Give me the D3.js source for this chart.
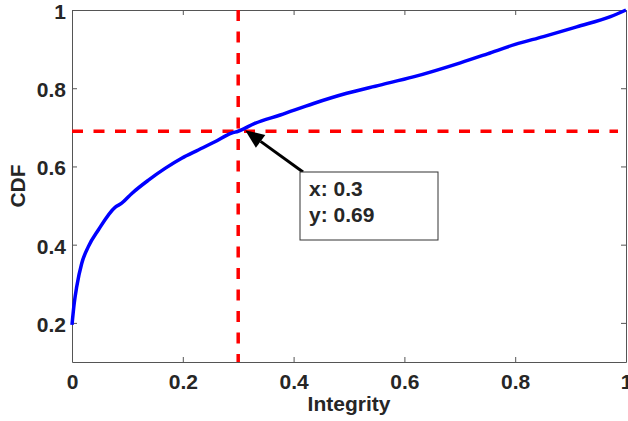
<!DOCTYPE html>
<html>
<head>
<meta charset="UTF-8">
<style>
  body { margin: 0; background: #fff; }
  svg { display: block; font-family: Arial, "Liberation Sans", sans-serif; }
  .axis text { font-size: 21px; font-weight: bold; fill: #262626; }
  .axis path, .axis line { stroke: #555; stroke-width: 1; }
  .lbl { font-size: 21px; font-weight: bold; fill: #262626; }
</style>
</head>
<body>
<script src="https://cdn.jsdelivr.net/npm/d3@7/dist/d3.min.js"></script>
<script>
// curve
var integrity = [0, 0.004, 0.0085, 0.0175, 0.0295, 0.0475, 0.0777, 0.0897, 0.108, 0.138, 0.168, 0.198,
  0.228, 0.258, 0.288, 0.30, 0.33, 0.376, 0.436, 0.496, 0.556, 0.616, 0.701, 0.75,
  0.80, 0.851, 0.911, 0.972, 1];
var cdf = [0.195, 0.25, 0.2925, 0.352, 0.395, 0.4375, 0.4955, 0.506, 0.531, 0.565, 0.595, 0.621,
  0.642, 0.663, 0.685, 0.69, 0.710, 0.7315, 0.761, 0.787, 0.808, 0.829, 0.865, 0.888,
  0.912, 0.932, 0.957, 0.983, 1];
var xTicks = [0, 0.2, 0.4, 0.6, 0.8, 1];
var yTicks = [0.2, 0.4, 0.6, 0.8, 1];
var marker = {x: 0.3, y: 0.69};

var W = 628, H = 421,
    x = d3.scaleLinear().domain([0, 1]).range([72, 626]),
    y = d3.scaleLinear().domain([0.1, 1]).range([362, 10]);

var svg = d3.select('body').append('svg').attr('width', W).attr('height', H);

var fmt = function(d) { return d === 0 || d === 1 ? String(d) : d3.format('.1f')(d); };

svg.append('g').attr('class', 'axis').attr('transform', 'translate(0,362)')
  .call(d3.axisBottom(x).tickValues(xTicks).tickFormat(fmt).tickSizeInner(-5).tickSizeOuter(0).tickPadding(12));
svg.append('g').attr('class', 'axis').attr('transform', 'translate(0,10)')
  .call(d3.axisTop(x).tickValues(xTicks).tickFormat('').tickSizeInner(-5).tickSizeOuter(0));
svg.append('g').attr('class', 'axis').attr('transform', 'translate(72,0)')
  .call(d3.axisLeft(y).tickValues(yTicks).tickFormat(fmt).tickSizeInner(-5).tickSizeOuter(0).tickPadding(6))
  .selectAll('.tick text').attr('dy', '0.4em');
svg.append('g').attr('class', 'axis').attr('transform', 'translate(626,0)')
  .call(d3.axisRight(y).tickValues(yTicks).tickFormat('').tickSizeInner(-5).tickSizeOuter(0));

// crosshair
svg.append('line').attr('x1', x(0)).attr('x2', 618).attr('y1', y(marker.y)).attr('y2', y(marker.y))
  .attr('stroke', '#ff0000').attr('stroke-width', 3.5).attr('stroke-dasharray', '11,10.5');
svg.append('line').attr('x1', x(marker.x)).attr('x2', x(marker.x)).attr('y1', y(1)).attr('y2', y(0.1))
  .attr('stroke', '#ff0000').attr('stroke-width', 3.5).attr('stroke-dasharray', '11,10.5');

var data = integrity.map(function(d, i) { return [d, cdf[i]]; });
svg.append('path').datum(data)
  .attr('fill', 'none').attr('stroke', '#0000ff').attr('stroke-width', 3.5).attr('stroke-linejoin', 'round')
  .attr('d', d3.line().x(function(d) { return x(d[0]); }).y(function(d) { return y(d[1]); }).curve(d3.curveMonotoneX));

// annotation arrow
var tipX = x(marker.x) + 7, tipY = y(marker.y) - 1, fromX = 303, fromY = 172;
var ang = Math.atan2(tipY - fromY, tipX - fromX), hl = 19, hw = 8;
var bx = tipX - hl * Math.cos(ang), by = tipY - hl * Math.sin(ang);
svg.append('line').attr('x1', fromX).attr('y1', fromY).attr('x2', bx).attr('y2', by)
  .attr('stroke', '#000').attr('stroke-width', 3);
svg.append('path')
  .attr('d', 'M' + tipX + ',' + tipY +
    'L' + (bx + hw * Math.sin(ang)) + ',' + (by - hw * Math.cos(ang)) +
    'L' + (bx - hw * Math.sin(ang)) + ',' + (by + hw * Math.cos(ang)) + 'Z')
  .attr('fill', '#000');

svg.append('rect').attr('x', 300).attr('y', 172).attr('width', 138).attr('height', 68)
  .attr('fill', '#fff').attr('stroke', '#333').attr('stroke-width', 1);
svg.append('text').attr('class', 'lbl').attr('x', 309).attr('y', 196).text('x: ' + marker.x);
svg.append('text').attr('class', 'lbl').attr('x', 309).attr('y', 222).text('y: ' + marker.y);

svg.append('text').attr('class', 'lbl').attr('x', 349).attr('y', 411).attr('text-anchor', 'middle').text('Integrity');
svg.append('text').attr('class', 'lbl').attr('transform', 'translate(25,186) rotate(-90)')
  .attr('text-anchor', 'middle').text('CDF');
</script>
</body>
</html>
